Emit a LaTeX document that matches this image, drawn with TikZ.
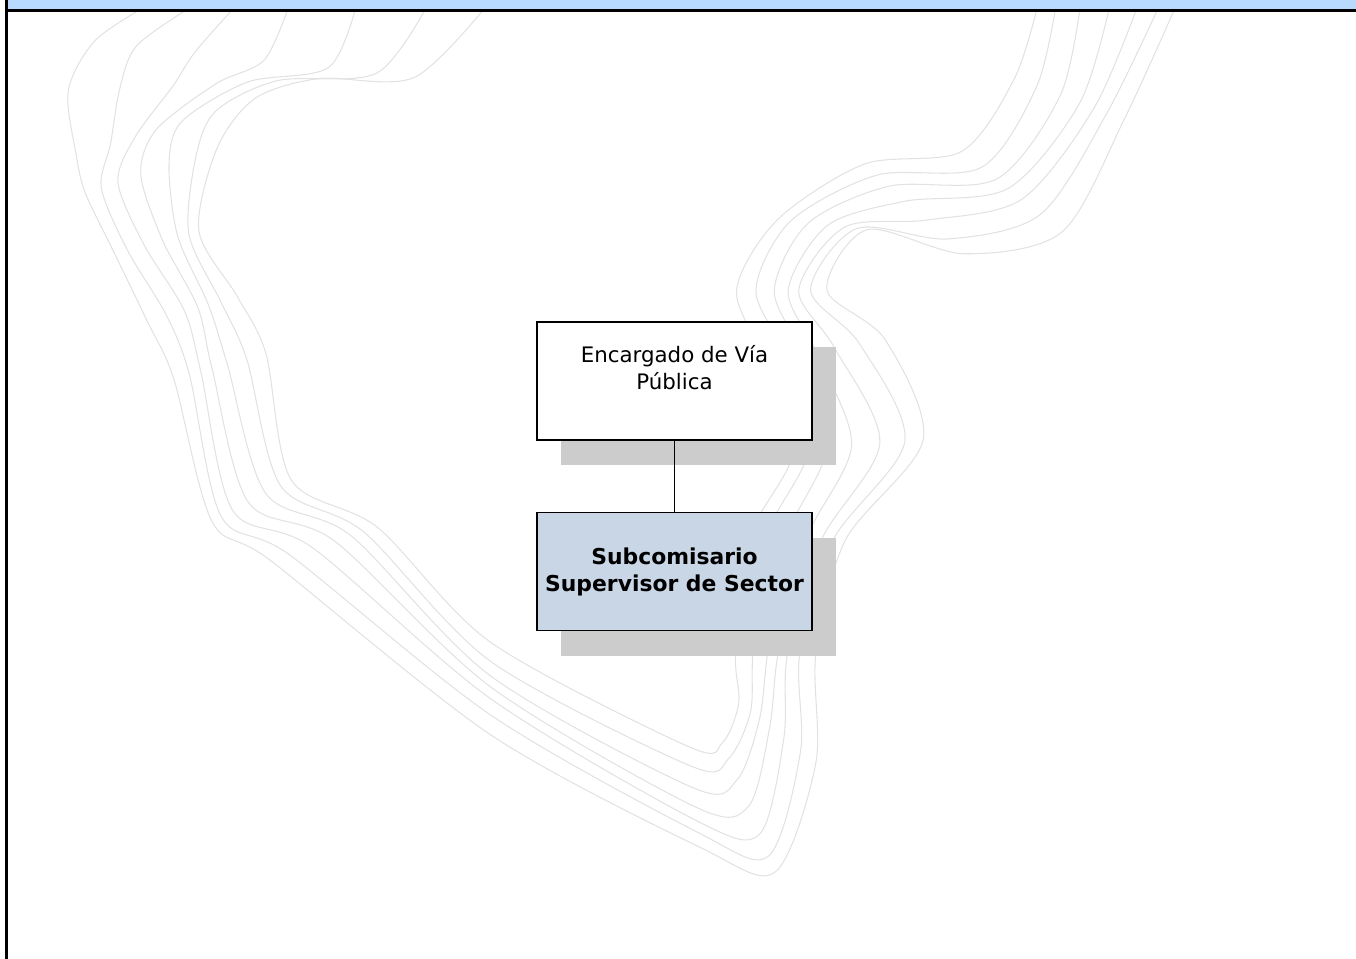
\documentclass[tikz,border=0pt]{standalone}
\usepackage{fontspec}
\setmainfont{DejaVu Sans}
\usetikzlibrary{positioning,calc,shadows}
\definecolor{barblue}{RGB}{184,218,255}
\definecolor{boxblue}{RGB}{201,214,230}
\definecolor{shadowgray}{RGB}{204,204,204}
\definecolor{wavegray}{RGB}{226,226,226}

\begin{document}
\begin{tikzpicture}[x=0.75pt,y=-0.75pt,
    wave/.style={draw=wavegray,line width=0.8pt},
    post/.style={draw,line width=1.2pt,inner sep=0pt,align=center,
      minimum width=206pt,minimum height=88.5pt,
      general shadow={fill=shadowgray,shadow xshift=18pt,shadow yshift=-18.75pt},
      font=\fontsize{16}{20.25}\selectfont}]
  \useasboundingbox (0,0) rectangle (1356,959);

  % outer and inner edge of the background band
  \foreach \k/\ox/\oy/\ix/\iy in {1/140/0/475/0, 2/100/40/420/78, 3/80/90/330/78,
      4/72/156/250/100, 5/80/195/212/150, 6/117/252/202/230, 7/150/320/240/296,
      8/170/380/262/355, 9/210/522/290/481, 10/277/560/383/526, 11/491/734/491/642,
      12/700/852/690/752, 13/775/872/722/742, 14/812/760/735/700, 15/817/653/737/653,
      16/850/540/752/540, 17/920/440/790/450, 18/880/340/760/360, 19/830/290/740/290,
      20/870/230/780/220, 21/960/250/860/160, 22/1060/230/960/150, 23/1130/120/1020/80,
      24/1180/0/1040/0}{
    \coordinate (o\k) at (\ox,\oy);
    \coordinate (i\k) at (\ix,\iy);
  }
  \foreach \i in {0,...,6}{
    \foreach \k in {1,...,24}{
      \pgfmathsetmacro\t{(\i+0.3*sin(\k*97+\i*61))/6}
      \coordinate (p\k) at ($(o\k)!\t!(i\k)$);
    }
    \draw[wave] plot[smooth,variable=\k,samples at={1,...,24}] (p\k);
  }

  \fill[barblue] (8,0) rectangle (1356,10);
  \draw[line width=2pt] (6.5,0) -- (6.5,959);
  \draw[line width=2pt] (6.5,10.5) -- (1356,10.5);

  \node[post,fill=white] (enc) at (674.5,381) {Encargado de Vía\\Pública\\\mbox{}};
  \node[post,fill=boxblue,font=\fontsize{16.4}{20.25}\selectfont\bfseries] (sub) [below=53.25pt of enc]
    {Subcomisario\\Supervisor de Sector};
  \draw[line width=1pt] (enc) -- (sub);
\end{tikzpicture}
\end{document}
